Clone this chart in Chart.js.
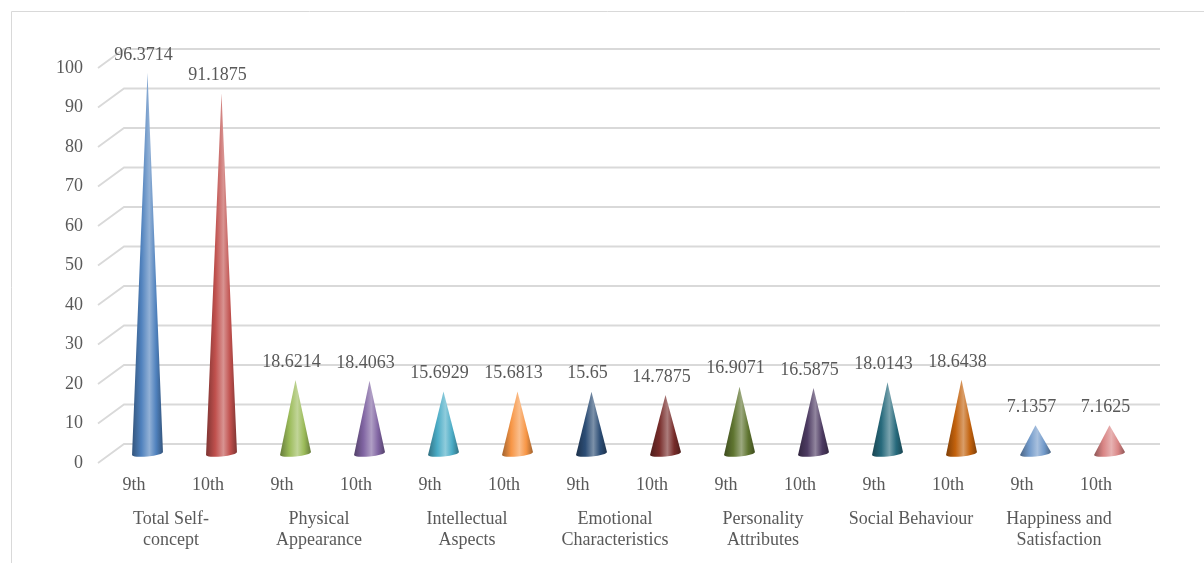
<!DOCTYPE html>
<html>
<head>
<meta charset="utf-8">
<script src="https://cdn.jsdelivr.net/npm/chart.js@4.4.1/dist/chart.umd.min.js"></script>
<style>
  html, body { margin: 0; padding: 0; background: #ffffff; }
  #wrap { position: relative; width: 1204px; height: 563px; }
</style>
</head>
<body>
<div id="wrap"><canvas id="c" width="1204" height="563"></canvas></div>
<script>
// Self-concept dimensions and mean scores by grade
const groups = [
  ["Total Self-", "concept"],
  ["Physical", "Appearance"],
  ["Intellectual", "Aspects"],
  ["Emotional", "Characteristics"],
  ["Personality", "Attributes"],
  ["Social Behaviour"],
  ["Happiness and", "Satisfaction"]
];
const grades = ["9th", "10th"];
const grade9 = [96.3714, 18.6214, 15.6929, 15.65, 16.9071, 18.0143, 7.1357];
const grade10 = [91.1875, 18.4063, 15.6813, 14.7875, 16.5875, 18.6438, 7.1625];
const yMin = 0;
const yMax = 100;
const yStep = 10;

// one cone colour per bar, in drawing order
const coneColors = [
  "#4f81bd", "#c0504d", "#9bbb59", "#8064a2", "#4bacc6", "#f79646", "#2c4d75",
  "#772c2a", "#5f7530", "#4d3b62", "#276a7c", "#c2610c", "#729aca", "#d98585"
];

// interleave the two grades into one category axis
const tickLabels = [];
const values = [];
groups.forEach((g, i) => {
  tickLabels.push(grades[0], grades[1]);
  values.push(grade9[i], grade10[i]);
});

const DEPTH = { dx: 27, dy: -19 };          // back wall offset from the front plane
const FONT = '"Liberation Serif", "Times New Roman", serif';
const TEXT = '#595959';

function shade(hex, amt) {                   // amt > 0 lightens, amt < 0 darkens
  const n = parseInt(hex.slice(1), 16);
  const r = n >> 16, g = (n >> 8) & 255, b = n & 255;
  const f = c => amt >= 0 ? Math.round(c + (255 - c) * amt) : Math.round(c * (1 + amt));
  return `rgb(${f(r)},${f(g)},${f(b)})`;
}

// light outer frame of the chart object
const framePlugin = {
  id: 'frame',
  beforeDraw(chart) {
    const ctx = chart.ctx;
    ctx.save();
    ctx.strokeStyle = '#d9d9d9';
    ctx.lineWidth = 1;
    ctx.beginPath();
    ctx.moveTo(11.5, chart.height);
    ctx.lineTo(11.5, 11.5);
    ctx.lineTo(chart.width, 11.5);
    ctx.stroke();
    ctx.restore();
  }
};

// 3D gridlines: short diagonal on the side wall, then along the back wall
const wallPlugin = {
  id: 'wall',
  beforeDatasetsDraw(chart) {
    const { ctx, chartArea: a, scales: { y } } = chart;
    ctx.save();
    ctx.strokeStyle = '#d9d9d9';
    ctx.lineWidth = 1.8;
    y.ticks.forEach(t => {
      const py = y.getPixelForValue(t.value);
      ctx.beginPath();
      ctx.moveTo(a.left + 1, py);
      ctx.lineTo(a.left + DEPTH.dx, py + DEPTH.dy);
      ctx.lineTo(a.right + DEPTH.dx, py + DEPTH.dy);
      ctx.stroke();
    });
    ctx.restore();
  }
};

// shaded cones standing half way into the depth, with value labels over the tips
const conePlugin = {
  id: 'cones',
  afterDatasetsDraw(chart) {
    const ctx = chart.ctx;
    const meta = chart.getDatasetMeta(0);
    const data = chart.data.datasets[0].data;
    ctx.save();
    meta.data.forEach((bar, i) => {
      const cx = bar.x + DEPTH.dx / 2;
      const tipY = bar.y + DEPTH.dy / 2;
      const baseY = bar.base + DEPTH.dy / 2;
      const hw = bar.width / 2;
      const col = coneColors[i % coneColors.length];
      const g = ctx.createLinearGradient(cx - hw, 0, cx + hw, 0);
      g.addColorStop(0, shade(col, -0.35));
      g.addColorStop(0.3, col);
      g.addColorStop(0.56, shade(col, 0.38));
      g.addColorStop(0.78, col);
      g.addColorStop(1, shade(col, -0.35));
      ctx.fillStyle = g;
      ctx.beginPath();
      ctx.moveTo(cx, tipY);
      ctx.ellipse(cx, baseY, hw, 3, -0.1, 0, Math.PI, false);
      ctx.closePath();
      ctx.fill();

      ctx.font = `18px ${FONT}`;
      ctx.fillStyle = TEXT;
      ctx.textAlign = 'center';
      ctx.textBaseline = 'middle';
      ctx.fillText(String(data[i]), cx - 4, tipY - 18);
    });
    ctx.restore();
  }
};

const tickFont = { family: FONT, size: 18, lineHeight: 1.167 };

new Chart(document.getElementById('c'), {
  type: 'bar',
  data: {
    labels: tickLabels,
    datasets: [{
      data: values,
      backgroundColor: 'rgba(0,0,0,0)',
      borderWidth: 0,
      barPercentage: 0.42,
      categoryPercentage: 1,
      xAxisID: 'x',
      yAxisID: 'y'
    }]
  },
  options: {
    responsive: false,
    animation: false,
    events: [],
    devicePixelRatio: 1,
    layout: { padding: { left: 0, top: 68, right: 71, bottom: 0 } },
    plugins: { legend: { display: false }, tooltip: { enabled: false } },
    scales: {
      x: {
        type: 'category',
        position: 'bottom',
        weight: 1,
        offset: true,
        grid: { display: false, drawTicks: false },
        border: { display: false },
        ticks: { autoSkip: false, maxRotation: 0, padding: 11.5, color: TEXT, font: tickFont },
        afterFit(s) { s.height = 40; }
      },
      x2: {
        type: 'category',
        labels: groups,
        position: 'bottom',
        weight: 2,
        offset: true,
        grid: { display: false, drawTicks: false },
        border: { display: false },
        ticks: { autoSkip: false, maxRotation: 0, padding: 5.5, color: TEXT, font: tickFont },
        afterFit(s) { s.height = 60; }
      },
      y: {
        min: yMin,
        max: yMax,
        grid: { display: false, drawTicks: false },
        border: { display: false },
        ticks: { stepSize: yStep, padding: 14, color: TEXT, font: tickFont },
        afterFit(s) { s.width = 97; }
      }
    }
  },
  plugins: [framePlugin, wallPlugin, conePlugin]
});
</script>
</body>
</html>
